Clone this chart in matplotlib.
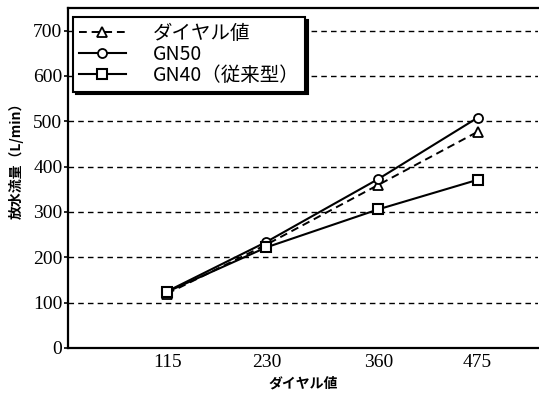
import matplotlib
matplotlib.use("Agg")
import matplotlib.pyplot as plt

dial_labels = ["115", "230", "360", "475"]
dial_x = [115, 230, 360, 475]
dial_value = [120, 228, 360, 477]
gn50 = [125, 234, 373, 508]
gn40 = [124, 222, 306, 371]
y_ticks = [0, 100, 200, 300, 400, 500, 600, 700]

plt.rcParams['font.family'] = ['Noto Sans CJK JP', 'DejaVu Sans']

fig = plt.figure(figsize=(5.39, 3.94), dpi=100)
ax = fig.add_axes([68/539, 46/394, 470/539, 340/394])

ax.plot(dial_x, dial_value, color='black', lw=1.4, ls=(0, (4, 2.5)),
        marker='^', ms=7, mfc='white', mec='black', mew=1.3, label='ダイヤル値', zorder=3)
ax.plot(dial_x, gn50, color='black', lw=1.5, ls='-',
        marker='o', ms=6.5, mfc='white', mec='black', mew=1.3, label='GN50', zorder=4)
ax.plot(dial_x, gn40, color='black', lw=1.5, ls='-',
        marker='s', ms=7, mfc='white', mec='black', mew=1.5, label='GN40（従来型）', zorder=5)

ax.set_xlim(0, 545)
ax.set_ylim(0, 750)
ax.set_xticks(dial_x)
ax.set_xticklabels(dial_labels, family='Liberation Serif', fontsize=14)
ax.set_yticks(y_ticks)
ax.set_yticklabels([str(v) for v in y_ticks], family='Liberation Serif', fontsize=14)
ax.tick_params(axis='x', length=0, pad=4)
ax.tick_params(axis='y', length=3, width=1.2, pad=1, direction='out')

for yv in y_ticks[1:]:
    ax.axhline(yv, color='black', lw=1.0, ls=(0, (4, 3)), zorder=1)

for s in ['left', 'bottom', 'top']:
    ax.spines[s].set_linewidth(1.6)
ax.spines['right'].set_visible(False)

ax.set_xlabel('ダイヤル値', fontsize=10, fontweight='bold', labelpad=4)
ax.set_ylabel('放水流量（L/min）', fontsize=10, fontweight='bold', labelpad=2)
ax.yaxis.set_label_coords(-0.095, 0.56)

leg = ax.legend(loc='upper left', bbox_to_anchor=(0.011, 0.974), fontsize=14,
                frameon=True, fancybox=False, edgecolor='black', framealpha=1,
                shadow={'color': 'black', 'alpha': 1}, handlelength=2.4,
                labelspacing=0.0, borderpad=0.3, handletextpad=1.4, borderaxespad=0)
leg.get_frame().set_linewidth(1.5)

fig.savefig('out.png', dpi=100)
